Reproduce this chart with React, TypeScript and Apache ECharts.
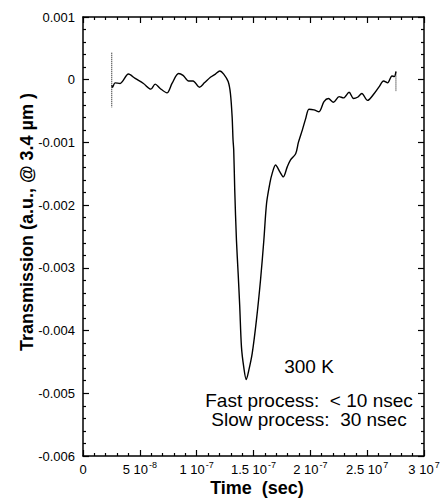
import React, { useEffect, useRef } from "react";
import * as echarts from "echarts";

// Time in ns, transmission in a.u.
const timeNs = [
  25.3, 25.9, 28.2, 32.6, 40.0, 45.9, 53.2, 59.7, 63.5, 67.9, 73.9, 78.3, 84.1, 88.0, 92.9,
  96.8, 102.4, 106.8, 112.1, 116.5, 120.3, 123.8, 127.7, 129.7, 131.2, 132.0, 132.6, 133.5,
  135.0, 136.5, 137.9, 139.4, 141.4, 143.6, 145.9, 148.9, 152.6, 156.2, 159.1, 161.5, 164.4,
  166.5, 169.4, 173.2, 176.2, 179.7, 182.6, 187.1, 189.5, 193.0, 195.9, 198.8, 203.2, 207.6,
  212.0, 215.9, 220.3, 225.3, 229.2, 234.1, 238.0, 241.5, 245.3, 250.3, 256.2, 260.6, 264.4,
  268.0, 271.8, 273.8, 275.3,
];
const transmission = [
  -0.00009, -0.00012, -0.00005, -0.00006, 0.00009, 0.00002, -0.00006, -0.00015, -0.00007,
  -0.00014, -0.00021, -0.00006, 0.0001, 0.00007, -0.00002, -0.00002, -0.00012, -0.00005,
  0.00004, 0.00009, 0.00014, 0.00009, -0.00003, -0.00022, -0.00059, -0.00096, -0.00112,
  -0.00176, -0.00256, -0.00309, -0.00362, -0.00426, -0.00458, -0.00478, -0.00463, -0.00436,
  -0.00383, -0.00319, -0.00256, -0.00197, -0.00165, -0.00149, -0.00136, -0.00147, -0.00155,
  -0.00139, -0.00128, -0.00118, -0.001, -0.0008, -0.00062, -0.00047, -0.00048, -0.00051,
  -0.00035, -0.0003, -0.00036, -0.00027, -0.00029, -0.0002, -0.0003, -0.00028, -0.00022,
  -0.00033, -0.00022, -0.00011, -0.00002, -0.00005, 0.00006, 0.00005, 0.00013,
];
// dotted vertical markers at the start and end of the trace
const startMarkerT = [25.3, 25.3];
const startMarkerV = [0.00043, -0.00044];
const endMarkerT = [275.3, 275.3];
const endMarkerV = [0.00013, -0.00019];

const xTickBase = ["0", "5 10", "1 10", "1.5 10", "2 10", "2.5 10", "3 10"];
const xTickExp = ["", "-8", "-7", "-7", "-7", "7", "7"];
const yTickLabels = ["-0.006", "-0.005", "-0.004", "-0.003", "-0.002", "-0.001", "0", "0.001"];

const xTitle = "Time  (sec)";
const yTitle = "Transmission (a.u., @ 3.4 µm )";
const notes = ["300 K", "Fast process:  < 10 nsec", "Slow process:  30 nsec"];

const FONT = "'Liberation Sans', Arial, Helvetica, sans-serif";

export default function App() {
  const ref = useRef<HTMLDivElement>(null);
  useEffect(() => {
    if (!ref.current) return;
    const chart = echarts.init(ref.current, null, { renderer: "svg" });
    const axisLine = { show: true, onZero: false, lineStyle: { color: "#000", width: 1.5 } };
    const tickStyle = { color: "#000", width: 1.2 };
    const xCommon = {
      type: "value" as const,
      min: 0,
      max: 300,
      interval: 50,
      axisLine,
      axisTick: { show: true, inside: true, length: 6, lineStyle: tickStyle },
      minorTick: { show: true, splitNumber: 5, length: 3, lineStyle: tickStyle },
      splitLine: { show: false },
    };
    const yCommon = {
      type: "value" as const,
      min: -0.006,
      max: 0.001,
      interval: 0.001,
      axisLine,
      axisTick: { show: true, inside: true, length: 6, lineStyle: tickStyle },
      minorTick: { show: true, splitNumber: 5, length: 3, lineStyle: tickStyle },
      splitLine: { show: false },
    };
    chart.setOption({
      animation: false,
      backgroundColor: "#fff",
      grid: { left: 83, right: 19, top: 17, bottom: 43, containLabel: false },
      xAxis: [
        {
          ...xCommon,
          position: "bottom",
          axisLabel: {
            margin: 4,
            fontFamily: FONT,
            color: "#000",
            formatter: (v: number) => {
              const i = Math.round(v / 50);
              const e = xTickExp[i];
              return e ? `{b|${xTickBase[i]}}{s|${e}}` : `{b|${xTickBase[i]}}`;
            },
            rich: {
              b: { fontSize: 13, fontFamily: FONT, color: "#000", lineHeight: 16, verticalAlign: "bottom" },
              s: { fontSize: 9, fontFamily: FONT, color: "#000", lineHeight: 16, verticalAlign: "top", padding: [0, 0, 8, 1] },
            },
          },
        },
        { ...xCommon, position: "top", axisLabel: { show: false } },
      ],
      yAxis: [
        {
          ...yCommon,
          position: "left",
          axisLabel: {
            margin: 8,
            fontFamily: FONT,
            fontSize: 13,
            color: "#000",
            formatter: (v: number) => yTickLabels[Math.round((v + 0.006) / 0.001)],
          },
        },
        { ...yCommon, position: "right", axisLabel: { show: false } },
      ],
      series: [
        {
          type: "line",
          data: timeNs.map((t, i) => [t, transmission[i]]),
          showSymbol: false,
          smooth: 0.3,
          lineStyle: { color: "#000", width: 1.4 },
        },
        {
          type: "line",
          data: startMarkerT.map((t, i) => [t, startMarkerV[i]]),
          showSymbol: false,
          lineStyle: { color: "#000", width: 1, type: "dotted" },
        },
        {
          type: "line",
          data: endMarkerT.map((t, i) => [t, endMarkerV[i]]),
          showSymbol: false,
          lineStyle: { color: "#000", width: 1, type: "dotted" },
        },
      ],
      graphic: [
        {
          type: "text",
          x: 257,
          y: 488,
          style: { text: xTitle, font: `bold 18px ${FONT}`, fill: "#000", textAlign: "center", textVerticalAlign: "middle" },
        },
        {
          type: "text",
          x: 27,
          y: 222,
          rotation: Math.PI / 2,
          style: { text: yTitle, font: `bold 18px ${FONT}`, fill: "#000", textAlign: "center", textVerticalAlign: "middle" },
        },
        {
          type: "text",
          x: 309,
          y: 366,
          style: { text: notes[0], font: `19px ${FONT}`, fill: "#000", textAlign: "center", textVerticalAlign: "middle" },
        },
        {
          type: "text",
          x: 309,
          y: 400,
          style: { text: notes[1], font: `19px ${FONT}`, fill: "#000", textAlign: "center", textVerticalAlign: "middle" },
        },
        {
          type: "text",
          x: 309,
          y: 419,
          style: { text: notes[2], font: `19px ${FONT}`, fill: "#000", textAlign: "center", textVerticalAlign: "middle" },
        },
      ],
    });
    return () => chart.dispose();
  }, []);
  return (
    <div
      ref={ref}
      style={{ position: "fixed", left: 0, top: 0, width: 443, height: 499, background: "#fff" }}
    />
  );
}
